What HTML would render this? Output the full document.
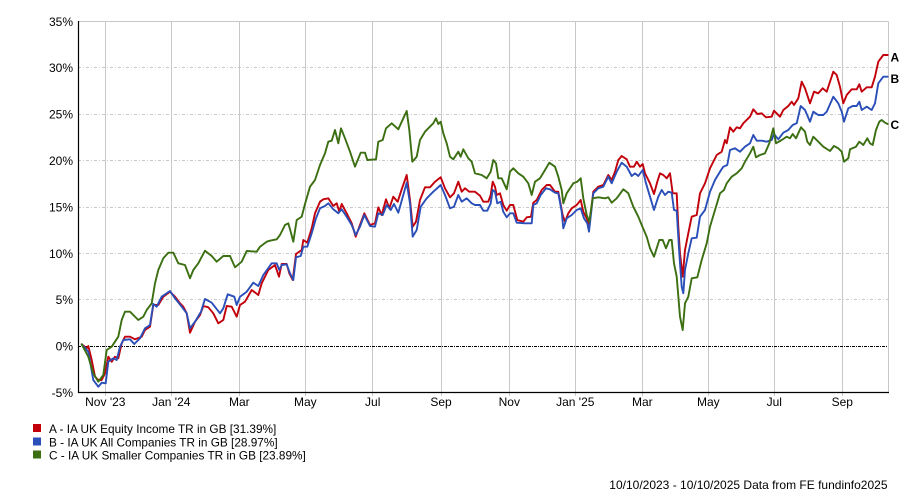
<!DOCTYPE html>
<html><head><meta charset="utf-8"><style>
html,body{margin:0;padding:0;background:#fff;}
svg{display:block;font-family:"Liberation Sans",Arial,sans-serif;}
</style></head><body>
<svg width="909" height="497" viewBox="0 0 909 497" xmlns="http://www.w3.org/2000/svg">
<rect width="909" height="497" fill="#fff"/>
<!-- horizontal grid -->
<g stroke="#c8c8c8" stroke-width="1" stroke-dasharray="3,2,1,2" fill="none">
<line x1="78" y1="67.5" x2="888" y2="67.5"/>
<line x1="78" y1="114.5" x2="888" y2="114.5"/>
<line x1="78" y1="160.5" x2="888" y2="160.5"/>
<line x1="78" y1="207.5" x2="888" y2="207.5"/>
<line x1="78" y1="253.5" x2="888" y2="253.5"/>
<line x1="78" y1="299.5" x2="888" y2="299.5"/>
</g>
<!-- vertical grid -->
<g stroke="#c8c8c8" stroke-width="1" fill="none">
<line x1="105.5" y1="21.5" x2="105.5" y2="396"/>
<line x1="171.5" y1="21.5" x2="171.5" y2="396"/>
<line x1="239.5" y1="21.5" x2="239.5" y2="396"/>
<line x1="305.5" y1="21.5" x2="305.5" y2="396"/>
<line x1="372.5" y1="21.5" x2="372.5" y2="396"/>
<line x1="441.5" y1="21.5" x2="441.5" y2="396"/>
<line x1="509.5" y1="21.5" x2="509.5" y2="396"/>
<line x1="575.5" y1="21.5" x2="575.5" y2="396"/>
<line x1="642.5" y1="21.5" x2="642.5" y2="396"/>
<line x1="708.5" y1="21.5" x2="708.5" y2="396"/>
<line x1="774.5" y1="21.5" x2="774.5" y2="396"/>
<line x1="842.5" y1="21.5" x2="842.5" y2="396"/>
<line x1="888.5" y1="21.5" x2="888.5" y2="392.5"/>
<line x1="78" y1="21.5" x2="888.5" y2="21.5"/>
</g>
<!-- zero line -->
<line x1="78" y1="346.5" x2="888" y2="346.5" stroke="#000" stroke-width="1" stroke-dasharray="3,1,1,1"/>
<!-- axes -->
<line x1="78.5" y1="21" x2="78.5" y2="393" stroke="#000" stroke-width="1.2"/>
<line x1="78" y1="392.5" x2="889" y2="392.5" stroke="#000" stroke-width="1.2"/>

<!-- Y labels -->
<g font-size="12" fill="#000" text-anchor="end">
<text x="73" y="25.8">35%</text>
<text x="73" y="72.2">30%</text>
<text x="73" y="118.6">25%</text>
<text x="73" y="165">20%</text>
<text x="73" y="211.4">15%</text>
<text x="73" y="257.8">10%</text>
<text x="73" y="304.2">5%</text>
<text x="73" y="350.6">0%</text>
<text x="73" y="397">-5%</text>
</g>
<!-- X labels -->
<g font-size="12" fill="#000" text-anchor="middle">
<text x="105.3" y="406">Nov '23</text>
<text x="171.3" y="406">Jan '24</text>
<text x="239.3" y="406">Mar</text>
<text x="305.3" y="406">May</text>
<text x="372.7" y="406">Jul</text>
<text x="441" y="406">Sep</text>
<text x="509.3" y="406">Nov</text>
<text x="575.3" y="406">Jan '25</text>
<text x="642.3" y="406">Mar</text>
<text x="708.3" y="406">May</text>
<text x="774.3" y="406">Jul</text>
<text x="842.3" y="406">Sep</text>
</g>

<g fill="none" stroke-width="1.9" stroke-linejoin="round" stroke-linecap="round">
<polyline stroke="#c2000b" points="81.7,344.3 86.7,348.3 88.3,346 91.7,360 95,376.7 98.3,380 101.7,380 105,373.3 108.3,356.7 111.7,361.7 115,356.7 118.3,358.3 121.7,343.3 125,336.7 130,336.7 135,339.3 141.7,336.7 145,330 150,326.7 153.3,305 158.3,305 163.3,296.7 170,291.7 175,296.7 180,303.3 183.3,306.7 186.7,313.3 190,332.7 195,321.7 200,315 203.3,306 208.3,307.3 213.3,313.3 218.3,323.3 223.3,320 226.7,306 231.7,306.7 236.7,316.7 240,305 245,301.7 251.7,290 258.3,295 261.7,283.3 268.3,270 275,265 279,276.7 281.7,264 286.7,264 289.3,273.3 292.7,280 296,254 301.7,250 303.3,240 307.3,242.7 311.7,228.3 315,213.3 320,201.7 323.3,199.3 328.3,198.3 333.3,206 336.7,203.3 339.3,211.7 341.7,204 346.7,213.3 351.7,223.3 355.7,236.7 360,225 364.3,213.3 370,225 375,223.3 378.3,207.3 381.7,215 386,199.3 389.3,208.3 393.3,196.7 397.7,201.7 401.7,189.3 406.7,175 410,200 412.7,226.7 416,221.7 420,200 425,187.3 430,187.3 435,181.7 440.7,177.3 445,188.3 450,197.3 454,193.3 458.3,181.7 461.7,191.7 465,188.3 469.3,191.7 475,191.7 480,195.7 483.3,201.7 488.3,201.7 490.7,195 492.7,181.7 495,186.7 496.7,195 500,193.3 503.3,205 506.7,210.7 510,205 513.3,205 517.3,220 523.3,221.7 526.7,217.3 531,216.7 533.3,202.7 536.7,200 541.7,190 546.7,185 550,185 555,191.7 558.3,191.7 562.7,215 565,221.7 568.3,213.3 571.7,208.3 576.7,205 580.7,200 583.3,211.7 586.7,218.3 589.3,225 593.3,191.7 598.3,186.7 603.3,185 608.3,175 611.7,180 615,171.7 618.3,160 621.7,156 626.7,159.3 630,166.7 634,166.7 636.7,161.7 640,166.7 642.7,164 645,173.3 650,183.3 654,194 657.3,181.7 660,173.3 663.3,175 666.7,178.3 670,173.3 672.7,193.3 676.7,193.3 678.3,226.7 680,253.3 682.7,276.7 685,250 688.3,233.3 691.7,216.7 696.7,215 700,193.3 705,183.3 710,168.3 716.7,155 721.7,151.7 725,140 726.7,143.3 730,127.3 733.3,131.7 736.7,127.3 740,128.3 743.3,123.3 750,116.7 753.3,109.3 757.3,114 761.7,113.3 766,117.3 771.7,116.7 774,110.7 780,116.7 783.3,110 788.3,106 791.7,101.7 794,105 798.3,98.3 801.7,81.7 805,88.3 810,103.3 814,91.7 818.3,93.3 822.7,88.3 826.7,91.7 833.3,71.7 836.7,75 840,86.7 843.3,103.3 846.7,95 851.7,89.3 856.7,89.3 859.3,84.3 861.7,91.7 866.7,87.3 871.7,87.3 875,76.7 878.3,61.7 883.3,55 887.7,55"/>
<polyline stroke="#2b4fb8" points="81.7,344.3 88.3,351.7 93.3,380 98.3,386.7 101.7,382.7 105.7,383.3 108.3,361.7 113.3,358.3 116.7,360 120,346.7 123.3,340 130,339.3 134.3,344 140,338.3 145,328.3 150,325 153.3,304 156.7,306.7 161.7,296.7 170,291 175,298.3 181.7,306.7 186.7,313.3 190,328.3 195,321.7 201,311.7 205,299 211.7,302.7 220,313.3 223.3,308.3 227.7,294.3 234.3,296.7 236.7,305 240,296.7 246.7,291.7 253.3,282.7 258.3,286 263.3,275 271.7,263.3 276.7,263.3 279.3,270 281.7,265 286.7,264.3 290,273.3 293.3,280 296,257.3 300.7,256 303.3,246.7 307.3,246.7 311.7,233.3 316,218.3 320,208.3 325,206 328.3,203.3 333.3,209.3 338.3,213.3 341.7,209.3 346.7,216.7 351.7,225 355.7,235 360,226.7 364.3,215 370,226 375,226.7 378.3,213.3 382.7,215 386.7,205 390.7,210 394,204 398.3,212.7 403.3,195 406.7,182.7 410,203.3 412.7,236.7 416.7,230 420.7,206.7 426.7,198.3 433.3,191.7 440.7,185 445,195 450,208.3 454,206.7 458.3,195 461.7,201.7 466.7,198.3 471.7,203.3 475,205 480,205 483.3,210.7 487.3,210.7 490.7,203.3 492.7,190 495,191.7 497.3,203.3 500.7,201.7 503.3,211.7 506.7,217.3 510,213.3 513.3,213.3 516.7,222.7 525,223.3 531.7,223.3 533.3,205 536.7,203.3 540.7,195 546,188.3 550,189.3 555,192.7 558.3,193.3 561.7,211.7 563.3,228.3 566.7,218.3 571.7,215 576.7,210 580.7,208.3 584,218.3 587.3,223.3 589,231.7 593.3,193.3 598.3,188.3 603.3,186.7 608.3,176.7 611.7,183.3 616.7,171.7 621.7,162.7 626.7,166.7 631.7,176 635,173.3 638.3,176 642.7,170 646,183.3 650,196.7 654,210 658.3,196.7 661.7,190 665,195 668.3,191.7 671.7,192.7 674,210 676.7,210.7 679.3,253.3 681.7,286.7 683.3,293.3 685,270 688.3,253.3 691.7,238.3 696.7,237.7 700,216.7 705,210 710,191.7 715,180 720,171.7 723.3,166.7 727.3,165 730,150 735,148.3 740,151.7 745,146.7 750,143.3 753.3,135 756.7,140.7 761.7,140.7 766.7,141.7 771.7,140 774,134 778.3,139.3 783.3,132.7 788.3,130 792.7,125 796.7,123.3 800.7,106 805,110 810,121.7 813.3,111.7 818.3,115 823.3,115 826.7,111.7 833.3,96.7 838.3,103.3 841.7,111.7 844,121.7 848.3,108.3 852.7,106 856.7,106 859.3,101.7 861.7,110 866.7,106.7 871.7,110 875,103.3 878.3,83.3 883.3,76.7 887.7,76.7"/>
<polyline stroke="#3b6f12" points="81.7,344.3 88.3,356.7 93.3,373.3 98.3,381.7 103.3,375 106.7,350 111.7,346.7 115,341.7 118.3,336.7 121.7,320 125,311.7 130,311.7 133.3,315 138.3,320 143.3,316.7 146.7,310 151.7,303.3 155,283.3 158.3,270 163.3,258.3 168.3,252.7 173.3,252.7 178.3,263.3 185,265 190,278.3 193.3,270 198.3,263.3 205,250.7 211.7,256 216.7,261.7 223.3,256 230,256 235,267.3 241.7,261.7 246.7,251 256.7,251.7 260,246.7 266.7,241.7 270,240.7 276.7,239.3 280,235 285,225 288.3,223.3 290.7,231.7 293.3,241.7 296.7,220 301.7,216.7 305,204 310,186.7 315,180 320,165 325,153.3 328.3,141.7 331.7,140.7 335,130 338.3,143.3 341,128.3 345,138.3 350,151.7 355,166.7 360.7,152.7 365,152.7 367.3,160 376,159.3 378.3,141.7 382.7,140 386,128.3 391.7,123.3 398.3,129.3 403.3,118.3 406.7,111 409.3,130 412.3,161.7 416.7,156.7 420,140 425,131.7 428.3,128.3 433.3,123.3 436,118.3 438.3,124 440.7,121.7 443.3,133.3 446.7,143.3 450,156.7 453.3,159.3 458.3,151.7 460.7,156.7 463.3,149.3 468.3,158.3 471.7,161.7 475,173.3 481.7,175 486.7,178.3 490.7,171.7 493.3,160 496,163.3 498.3,178.3 501.7,178.3 506.7,189.3 510,171.7 513.3,168.3 518.3,173.3 523.3,176.7 528.3,183.3 531.7,195 535,181.7 540,178.3 545,170 549.3,162.7 555,166.7 558.3,176.7 561.7,190 563.3,203.3 566.7,193.3 573.3,183.3 577.3,181.7 580.7,178.3 583.3,198.3 586.7,215 589.3,221.7 592.7,198.3 598.3,197.3 605,198.3 608.3,197.3 611.7,202.7 616.7,198.3 623.3,189.3 628.3,193.3 633.3,206.7 638.3,216.7 641.7,225 646.7,236.7 650,248.3 654,256.7 659.3,240 662.7,240 666,248.3 669.3,240 671.7,240 674,263.3 676.7,276.7 680,316.7 682.7,330 685,303.3 688.3,296.7 691.7,278.3 697.3,277.3 701.7,260 706.7,243.3 710,226.7 715,210 720,193.3 724,190 726.7,183.3 731.7,176.7 736.7,173.3 741.7,168.3 745,161.7 750,153.3 753.3,146.7 756,157.3 760,155 765,153.3 769.3,143.3 773.3,128.3 776,143.3 781.7,140 786.7,136.7 790,138.3 792.7,134 796,138.3 801,127.3 805,131.7 807.3,141.7 810,145 813.3,136.7 818.3,141.7 823.3,146.7 830,151 834,146 838.3,148.3 841.7,151.7 844,161.7 848.3,158.3 850,149.3 856,146.7 859.3,141.7 863.3,145 867.3,138.3 870,143.3 872.7,145 876,130 879.3,121.7 881.7,120 885,122.7 887.7,124"/>
</g>

<!-- end labels -->
<g font-size="12" font-weight="bold" fill="#000">
<text x="890.5" y="61.3">A</text>
<text x="890.5" y="83">B</text>
<text x="890.5" y="129">C</text>
</g>

<!-- legend -->
<rect x="33" y="424" width="8" height="8" fill="#c2000b"/>
<rect x="33" y="437.5" width="8" height="8" fill="#2b4fb8"/>
<rect x="33" y="450.5" width="8" height="8" fill="#3b6f12"/>
<g font-size="11.8" fill="#000">
<text x="49" y="433">A - IA UK Equity Income TR in GB [31.39%]</text>
<text x="49" y="446.3">B - IA UK All Companies TR in GB [28.97%]</text>
<text x="49" y="459.5">C - IA UK Smaller Companies TR in GB [23.89%]</text>
</g>

<!-- footer -->
<text x="887.5" y="489" font-size="12" fill="#000" text-anchor="end">10/10/2023 - 10/10/2025 Data from FE fundinfo2025</text>
</svg>
</body></html>
